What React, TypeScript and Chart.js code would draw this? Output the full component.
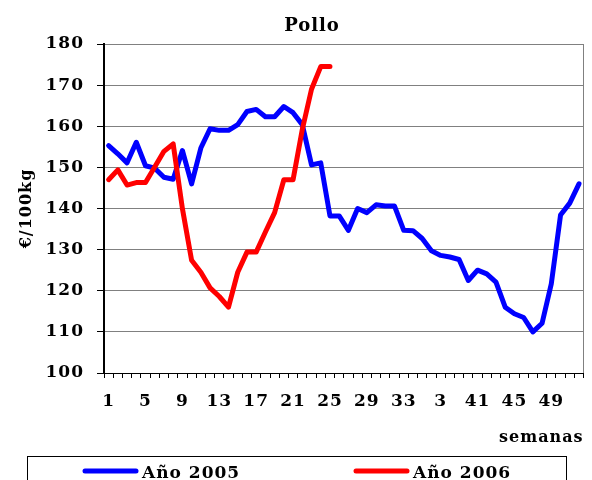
import React, { useEffect, useRef } from 'react';
import { Chart, registerables } from 'chart.js';

Chart.register(...registerables);

const chartTitle = 'Pollo';
const yAxisTitle = '€/100kg';
const xAxisTitle = 'semanas';

const weekLabels = [
  '1', '2', '3', '4', '5', '6', '7', '8', '9', '10',
  '11', '12', '13', '14', '15', '16', '17', '18', '19', '20',
  '21', '22', '23', '24', '25', '26', '27', '28', '29', '30',
  '31', '32', '33', '34', '35', '36', '3', '38', '39', '40',
  '41', '42', '43', '44', '45', '46', '47', '48', '49', '50',
  '51', '52',
];

const serie2005 = [
  155.3, 153.3, 151.1, 156.1, 150.4, 149.8, 147.6, 147.1, 154.1, 146,
  154.7, 159.4, 159, 159, 160.4, 163.6, 164.1, 162.3, 162.3, 164.8,
  163.3, 160.4, 150.6, 151.1, 138.2, 138.2, 134.7, 140, 139, 140.9,
  140.6, 140.6, 134.7, 134.6, 132.7, 129.7, 128.6, 128.2, 127.6, 122.5,
  125, 124.1, 122.1, 116, 114.4, 113.5, 110, 112.1, 121.7, 138.4,
  141.3, 146,
];

const serie2006 = [
  147, 149.4, 145.7, 146.3, 146.3, 150.1, 153.9, 155.7, 140, 127.4,
  124.5, 120.7, 118.6, 116, 124.5, 129.4, 129.4, 134.3, 139, 147,
  147, 159.2, 169, 174.5, 174.5,
];

const seriesNames = ['Año 2005', 'Año 2006'];
const seriesColors = ['#0000FF', '#FF0000'];

const yMin = 100;
const yMax = 180;
const yStep = 10;

const FONT = "'DejaVu Serif', serif";
const SPACING = '1px';

const spacingPlugin = {
  id: 'letterSpacing',
  beforeLayout(chart: any) {
    chart.ctx.letterSpacing = SPACING;
  },
  beforeDraw(chart: any) {
    chart.ctx.letterSpacing = SPACING;
  },
};

const framePlugin = {
  id: 'frameAndLegend',
  afterDraw(chart: any) {
    const { ctx, chartArea } = chart;
    ctx.save();
    ctx.letterSpacing = SPACING;
    // title
    ctx.fillStyle = '#000';
    ctx.font = `bold 18px ${FONT}`;
    ctx.textAlign = 'center';
    ctx.textBaseline = 'alphabetic';
    ctx.fillText(chartTitle, 312, 31);

    // right border of plot
    ctx.strokeStyle = '#808080';
    ctx.lineWidth = 1;
    ctx.beginPath();
    ctx.moveTo(Math.round(chartArea.right) - 0.5, chartArea.top);
    ctx.lineTo(Math.round(chartArea.right) - 0.5, chartArea.bottom);
    ctx.stroke();

    // legend box
    ctx.strokeStyle = '#000';
    ctx.lineWidth = 1;
    ctx.strokeRect(27.5, 456.5, 539, 40);

    const starts = [83, 354];
    chart.data.datasets.forEach((ds: any, i: number) => {
      const x0 = starts[i];
      ctx.strokeStyle = ds.borderColor;
      ctx.lineWidth = 5;
      ctx.lineCap = 'round';
      ctx.beginPath();
      ctx.moveTo(x0 + 2, 471);
      ctx.lineTo(x0 + 53, 471);
      ctx.stroke();
      ctx.fillStyle = '#000';
      ctx.font = `bold 17px ${FONT}`;
      ctx.textBaseline = 'alphabetic';
      ctx.textAlign = 'left';
      ctx.fillText(ds.label, x0 + 59, 478);
    });
    ctx.restore();
  },
};

export default function App() {
  const ref = useRef<HTMLCanvasElement | null>(null);

  useEffect(() => {
    if (!ref.current) return;
    const chart = new Chart(ref.current, {
      type: 'line',
      data: {
        labels: weekLabels,
        datasets: [
          {
            label: seriesNames[0],
            data: serie2005,
            borderColor: seriesColors[0],
            backgroundColor: seriesColors[0],
            borderWidth: 5,
            pointRadius: 0,
            tension: 0,
            borderJoinStyle: 'round',
            borderCapStyle: 'round',
            order: 1,
          },
          {
            label: seriesNames[1],
            data: serie2006,
            borderColor: seriesColors[1],
            backgroundColor: seriesColors[1],
            borderWidth: 5,
            pointRadius: 0,
            tension: 0,
            borderJoinStyle: 'round',
            borderCapStyle: 'round',
            order: 0,
          },
        ],
      },
      options: {
        responsive: false,
        animation: false,
        devicePixelRatio: 1,
        layout: { padding: { left: 0, right: 2, top: 44, bottom: 30 } },
        plugins: {
          legend: { display: false },
          tooltip: { enabled: false },
          title: { display: false },
        },
        scales: {
          x: {
            type: 'category',
            offset: true,
            grid: {
              display: true,
              drawOnChartArea: false,
              drawTicks: true,
              offset: true,
              tickLength: 5,
              tickColor: '#000',
            },
            border: { display: true, color: '#000', width: 1 },
            ticks: {
              autoSkip: false,
              maxRotation: 0,
              minRotation: 0,
              padding: 13,
              color: '#000',
              font: { family: FONT, size: 17, weight: 'bold' },
              callback: (_v: any, i: number) => (i % 4 === 0 ? weekLabels[i] : ''),
            },
            title: {
              display: true,
              text: xAxisTitle,
              align: 'end',
              color: '#000',
              font: { family: FONT, size: 16, weight: 'bold' },
              padding: { top: 0, bottom: 3 },
            },
            afterFit: (scale: any) => {
              scale.height = 77;
            },
          },
          y: {
            min: yMin,
            max: yMax,
            grid: {
              color: '#808080',
              tickColor: '#000',
              tickLength: 7,
              lineWidth: 1,
            },
            border: { display: true, color: '#000', width: 2 },
            ticks: {
              stepSize: yStep,
              padding: 13,
              color: '#000',
              font: { family: FONT, size: 17, weight: 'bold' },
            },
            title: {
              display: true,
              text: yAxisTitle,
              color: '#000',
              font: { family: FONT, size: 16, weight: 'bold' },
              padding: { top: 17, bottom: 0 },
            },
            afterFit: (scale: any) => {
              scale.width = 104;
            },
          },
        },
      },
      plugins: [spacingPlugin, framePlugin],
    } as any);
    return () => chart.destroy();
  }, []);

  return (
    <div style={{ position: 'fixed', left: 0, top: 0, width: 592, height: 480, background: '#fff' }}>
      <canvas ref={ref} width={592} height={480} style={{ display: 'block', width: 592, height: 480 }} />
    </div>
  );
}
